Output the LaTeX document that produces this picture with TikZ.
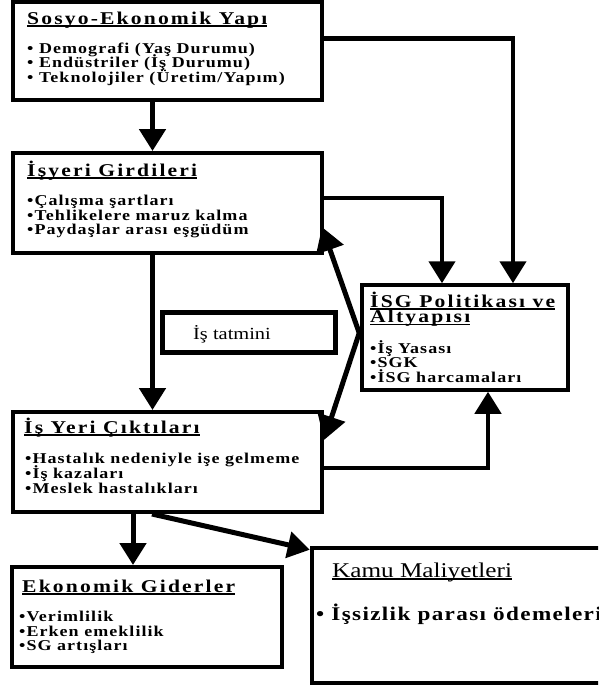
\documentclass[tikz,border=0pt]{standalone}
\usepackage{fontspec}
\setmainfont{Liberation Serif}
\newfontfamily\spc[FakeStretch=1.2,LetterSpace=12]{Liberation Serif}
\newfontfamily\spb[FakeStretch=1.2,LetterSpace=7]{Liberation Serif}
\newfontfamily\stc[FakeStretch=1.2]{Liberation Serif}
\usetikzlibrary{arrows.meta,fit,calc}
\newcommand\ulin[1]{\setbox0\hbox{#1}\rlap{\rule[-2.5pt]{\wd0}{1.4pt}}\box0}
\tikzset{
  boxx/.style={draw, line width=4pt, inner sep=0pt},
  ttl/.style={anchor=base west, inner sep=0pt, font=\spc\bfseries\fontsize{18}{18}\selectfont},
  bul/.style={anchor=base west, inner sep=0pt, font=\spb\bfseries\fontsize{15}{15}\selectfont},
  arr/.style={line width=5pt, line join=miter, -{Triangle[width=26pt,length=22pt]}},
  arrb/.style={line width=4.5pt, line join=miter, -{Triangle[width=26pt,length=22pt]}},
}
\begin{document}
\begin{tikzpicture}[x=1pt,y=-1pt]
\useasboundingbox (0,0) rectangle (598,689);
\clip (0,0) rectangle (598,689);
\fill[white] (0,0) rectangle (598,689);
% box corners
\coordinate (b1a) at (13,2);   \coordinate (b1b) at (322,100);
\coordinate (b2a) at (13,153); \coordinate (b2b) at (322,253);
\coordinate (b3a) at (13,412); \coordinate (b3b) at (322,512);
\coordinate (isa) at (362,285); \coordinate (isb) at (568,390);
\coordinate (sta) at (162,312); \coordinate (stb) at (335,352);
\coordinate (eka) at (12,567); \coordinate (ekb) at (282,667);
\coordinate (kaa) at (312,548); \coordinate (kab) at (612,683);
\node[boxx, fit=(b1a)(b1b)] (b1) {};
\node[boxx, fit=(b2a)(b2b)] (b2) {};
\node[boxx, fit=(b3a)(b3b)] (b3) {};
\node[boxx, line width=3.5pt, fit=(isa)(isb)] (isg) {};
\node[boxx, line width=5pt, fit=(sta)(stb)] (st) {};
\node[boxx, fit=(eka)(ekb)] (ek) {};
\node[boxx, line width=4.5pt, fit=(kaa)(kab)] (ka) {};
% texts box1
\node[ttl] (t1) at (27,24) {\ulin{Sosyo-Ekonomik Yapı}};
\node[bul] (t1a) at (27,53) {• Demografi (Yaş Durumu)};
\node[bul] (t1b) at (27,67.5) {• Endüstriler (İş Durumu)};
\node[bul] (t1c) at (27,82) {• Teknolojiler (Üretim/Yapım)};
% box2
\node[ttl] (t2) at (27,176) {\ulin{İşyeri Girdileri}};
\node[bul] (t2a) at (27,205) {•Çalışma şartları};
\node[bul] (t2b) at (27,220) {•Tehlikelere maruz kalma};
\node[bul] (t2c) at (27,234.5) {•Paydaşlar arası eşgüdüm};
% box3
\node[ttl] (t3) at (24,433) {\ulin{İş Yeri Çıktıları}};
\node[bul] (t3a) at (25,463) {•Hastalık nedeniyle işe gelmeme};
\node[bul] (t3b) at (25,478) {•İş kazaları};
\node[bul] (t3c) at (25,493) {•Meslek hastalıkları};
% isg
\node[ttl] (t4) at (370,307) {\ulin{İSG Politikası ve}};
\node[ttl] (t4l) at (370,322.5) {\ulin{Altyapısı}};
\node[bul] (t4a) at (370,353) {•İş Yasası};
\node[bul] (t4b) at (370,367.5) {•SGK};
\node[bul] (t4c) at (370,382) {•İSG harcamaları};
% is tatmini
\node[anchor=base west, inner sep=0pt, font=\stc\fontsize{17}{17}\selectfont] (t5) at (193,339) {İş tatmini};
% ekonomik
\node[ttl] (t6) at (22,592) {\ulin{Ekonomik Giderler}};
\node[bul] (t6a) at (19,621.5) {•Verimlilik};
\node[bul] (t6b) at (19,636) {•Erken emeklilik};
\node[bul] (t6c) at (19,650.5) {•SG artışları};
% kamu
\node[anchor=base west, inner sep=0pt, font=\stc\fontsize{21}{21}\selectfont] (t7) at (332,577) {\ulin{Kamu Maliyetleri}};
\node[anchor=base west, inner sep=0pt, font=\spb\bfseries\fontsize{19.3}{20}\selectfont] (t7a) at (316,620) {• İşsizlik parası ödemeleri};
% connectors
\draw[arr] ([xshift=-15pt]b1.south) -- ([xshift=-15pt]b2.north);
\draw[arr] ([xshift=-15pt]b2.south) -- ([xshift=-15pt]b3.north);
\draw[arrb] ([yshift=12.5pt]b1.east) -| ([xshift=48pt]isg.north);
\draw[arrb] ([yshift=5pt]b2.east) -| ([xshift=-23pt]isg.north);
\draw[arrb] ([yshift=-6pt]b3.east) -| ([xshift=23pt]isg.south);
\coordinate (j) at ([xshift=-1pt,yshift=4.5pt]isg.west);
\draw[arr, -{Triangle[width=28pt,length=24pt]}] (j) -- ([shift={(-2pt,28pt)}]b2.south east);
\draw[arr, -{Triangle[width=28pt,length=24pt]}] (j) -- ([yshift=-30pt]b3.north east);
\draw[arr] ([xshift=-34.5pt]b3.south) -- ([xshift=-14pt]ek.north);
\draw[arr] ([xshift=-15.5pt]b3.south) -- ([yshift=-4pt]ka.north west);
\end{tikzpicture}
\end{document}
